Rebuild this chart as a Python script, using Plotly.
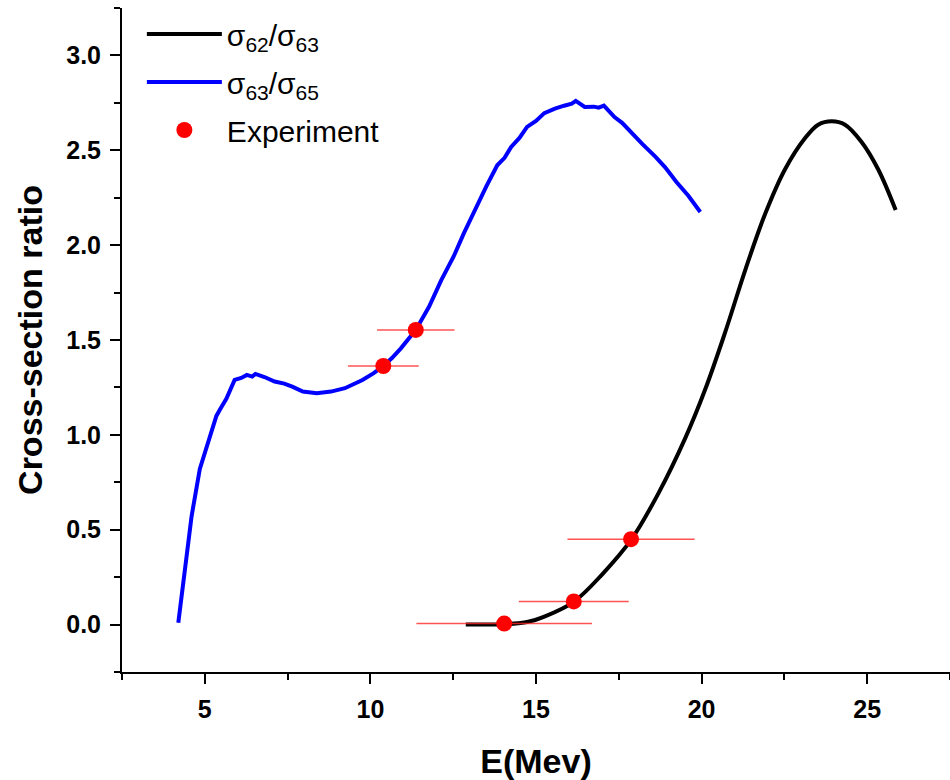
import plotly.graph_objects as go

# sigma63/sigma65 ratio curve (energy in MeV, ratio)
e_6365 = [4.20, 4.40, 4.60, 4.85, 5.10, 5.35, 5.48, 5.65, 5.90, 6.10, 6.27, 6.43, 6.53,
          6.80, 7.11, 7.40, 7.64, 7.96, 8.38, 8.81, 9.23, 9.50, 9.76, 10.10, 10.39, 10.65,
          10.92, 11.37, 11.77, 12.14, 12.51, 12.82, 13.24, 13.50, 13.83, 14.05, 14.25,
          14.50, 14.73, 15.00, 15.25, 15.57, 15.85, 16.08, 16.20, 16.47, 16.75, 16.89,
          17.05, 17.37, 17.60, 17.89, 18.20, 18.61, 18.90, 19.24, 19.60, 19.96]
r_6365 = [0.01, 0.31, 0.57, 0.82, 0.96, 1.10, 1.14, 1.19, 1.29, 1.30, 1.316, 1.307, 1.321,
          1.305, 1.281, 1.27, 1.254, 1.228, 1.219, 1.228, 1.246, 1.265, 1.289, 1.325, 1.363, 1.405,
          1.456, 1.553, 1.675, 1.816, 1.939, 2.062, 2.219, 2.31, 2.421, 2.46, 2.518,
          2.565, 2.623, 2.655, 2.696, 2.72, 2.735, 2.746, 2.76, 2.728, 2.73, 2.725,
          2.735, 2.675, 2.645, 2.588, 2.535, 2.465, 2.41, 2.333, 2.26, 2.175]

# sigma62/sigma63 ratio curve
e_6263 = [12.88, 13.50, 14.04, 14.69, 15.29, 16.14, 17.00, 17.87, 18.70, 19.51, 20.11,
          20.71, 21.32, 21.92, 22.52, 23.12, 23.52, 23.93, 24.33, 24.83, 25.33, 25.86]
r_6263 = [0.0, 0.0, 0.002, 0.012, 0.045, 0.12, 0.265, 0.446, 0.693, 0.984, 1.24,
          1.54, 1.87, 2.165, 2.40, 2.563, 2.635, 2.653, 2.635, 2.544, 2.40, 2.185]

# measured ratios with energy uncertainty
e_exp = [10.39, 11.37, 14.04, 16.14, 17.87]
r_exp = [1.363, 1.553, 0.005, 0.122, 0.450]
de_exp = [1.07, 1.17, 2.65, 1.66, 1.92]

FONT = "Liberation Sans, Arial, sans-serif"

fig = go.Figure()
fig.add_trace(go.Scatter(x=e_6263, y=r_6263, mode="lines", legendgroup="a",
                         line=dict(color="black", width=4, shape="spline", smoothing=1.0),
                         name="σ<sub>62</sub>/σ<sub>63</sub>"))
fig.add_trace(go.Scatter(x=e_6365, y=r_6365, mode="lines", legendgroup="b",
                         line=dict(color="#0000ff", width=4),
                         name="σ<sub>63</sub>/σ<sub>65</sub>"))
fig.add_trace(go.Scatter(x=e_exp, y=r_exp, mode="markers", legendgroup="c",
                         marker=dict(color="#ff0000", size=16),
                         error_x=dict(type="data", array=de_exp, color="rgba(255,40,40,0.8)",
                                      thickness=1.5, width=0),
                         name="Experiment"))

tick_font = dict(family=FONT, size=25, color="black", weight="bold")
fig.update_layout(
    width=950, height=780,
    margin=dict(l=122, r=0, t=8, b=108),
    plot_bgcolor="white", paper_bgcolor="white",
    font=dict(family=FONT, color="black"),
    showlegend=True,
    legend=dict(x=0.024, y=1.0, xanchor="left", yanchor="top",
                font=dict(size=30, family=FONT, color="black"),
                itemwidth=75, tracegroupgap=6, bgcolor="rgba(0,0,0,0)"),
)
fig.update_xaxes(range=[2.5, 27.5], tick0=0, dtick=5, showgrid=False, zeroline=False,
                 showline=True, linecolor="black", linewidth=2,
                 ticks="outside", ticklen=10, tickwidth=2, tickcolor="black",
                 ticklabelstandoff=4,
                 minor=dict(ticks="outside", ticklen=6, tickwidth=2, dtick=2.5, tick0=0,
                            tickcolor="black"),
                 tickfont=tick_font,
                 title=dict(text="E(Mev)", font=dict(size=34, weight="bold", family=FONT),
                            standoff=30))
fig.update_yaxes(range=[-0.25, 3.25], tick0=0, dtick=0.5, tickformat=".1f",
                 showgrid=False, zeroline=False,
                 showline=True, linecolor="black", linewidth=2,
                 ticks="outside", ticklen=10, tickwidth=2, tickcolor="black",
                 ticklabelstandoff=4,
                 minor=dict(ticks="outside", ticklen=6, tickwidth=2, dtick=0.25, tick0=0,
                            tickcolor="black"),
                 tickfont=tick_font,
                 title=dict(text="Cross-section ratio",
                            font=dict(size=34, weight="bold", family=FONT), standoff=13))

fig.write_html("out.html")
